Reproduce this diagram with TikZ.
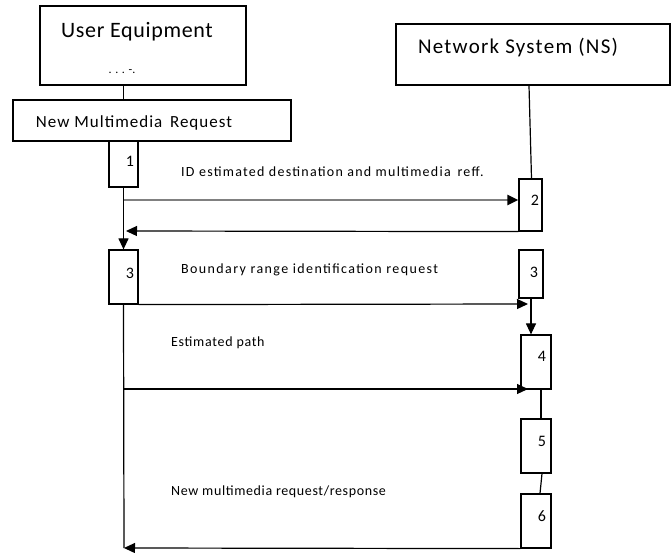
\documentclass[tikz,border=0pt]{standalone}
\usepackage{fontspec}
\setmainfont{Carlito}
\usetikzlibrary{arrows.meta,calc}
\tikzset{
  box/.style={draw=black, line width=1.2pt, rectangle, inner sep=0pt},
  lbl/.style={anchor=west, inner sep=0pt},
  num/.style={inner sep=0pt, font=\fontsize{16}{18}\selectfont},
  ln/.style={line width=1.2pt, black},
  arr/.style={ln, -{Triangle[length=11pt,width=10pt]}},
  garr/.style={line width=2.4pt, draw=black!50, -{Triangle[length=11pt,width=10pt,color=black]}}
}
\newcommand{\lblfont}[1]{\fontsize{14}{16}\selectfont\addfontfeature{LetterSpace=#1}}
\begin{document}
\begin{tikzpicture}[x=1pt,y=-1pt]
\useasboundingbox (0,0) rectangle (672,553);
% header boxes
\node[box, minimum width=206pt, minimum height=79pt] (ue) at (143,45.5) {};
\node[inner sep=0pt, font=\fontsize{22}{24}\selectfont\addfontfeature{LetterSpace=3}] (uet) at (137,32) {User Equipment};
\node[inner sep=0pt, font=\fontsize{12}{14}\selectfont] (ued) at (122,72) {. . . -.};
\node[box, minimum width=274pt, minimum height=61pt] (ns) at (533,54.5) {};
\node[inner sep=0pt, font=\fontsize{21}{24}\selectfont\addfontfeature{LetterSpace=6}] (nst) at (518,48) {Network System (NS)};
\node[box, minimum width=278pt, minimum height=41pt] (nmr) at (152,120.5) {};
\node[inner sep=0pt, font=\fontsize{17}{19}\selectfont\addfontfeature{LetterSpace=6}] (nmrt) at (134,123) {New Multimedia\, Request};
% activation boxes
\node[box, minimum width=29pt, minimum height=46pt] (b1) at (123.5,164) {};
\node[num] (n1) at (130,161) {1};
\node[box, minimum width=23pt, minimum height=52pt] (b2) at (530.5,205) {};
\node[num] (n2) at (535,200) {2};
\node[box, minimum width=29pt, minimum height=54pt] (b3l) at (123.5,277) {};
\node[num] (n3l) at (130,273) {3};
\node[box, minimum width=24pt, minimum height=48pt] (b3r) at (531,274) {};
\node[num] (n3r) at (534,272) {3};
\node[box, minimum width=30pt, minimum height=54pt] (b4) at (536,362) {};
\node[num] (n4) at (542,356) {4};
\node[box, minimum width=30pt, minimum height=54pt] (b5) at (536,446) {};
\node[num] (n5) at (542,441) {5};
\node[box, minimum width=30pt, minimum height=54pt] (b6) at (536,521) {};
\node[num] (n6) at (542,516) {6};
% labels
\node[lbl, font=\lblfont{9}] (l1) at (181,172) {ID estimated destination and multimedia\, reff.};
\node[lbl, font=\lblfont{10}] (l2) at (181,270) {Boundary range identification request};
\node[lbl, font=\lblfont{5}] (l3) at (171,343) {Estimated path};
\node[lbl, font=\lblfont{4.5}] (l4) at (171,492) {New multimedia request/response};
% coordinates
\coordinate (a1s) at (124,200);
\coordinate (a2e) at (126,231);
\coordinate (a3e) at (528,304);
\coordinate (a4s) at (124,389);
\coordinate (a4e) at (528,389);
\coordinate (a5e) at (124,548);
% connectors
\draw[ln] (ue.south -| b1.center) -- (nmr.north -| b1.center);
\draw[ln] (ns.south) ++(-4,0) coordinate (nsl) -- ($(b2.north)+(1,0)$);
\draw[arr] (b1.south) -- (b3l.north);
\draw[garr] (a1s) -- (a1s -| b2.west);
\draw[arr] (b2.south west) -- (a2e);
\draw[arr] (b3l.south east) -- (a3e);
\draw[arr] (b3r.south) -- (b3r.south |- b4.north);
\draw[ln] (b3l.south) -- (a5e);
\draw[arr] (a4s) -- (a4e);
\draw[ln] ($(b4.south)+(5,0)$) -- ($(b5.north)+(5,0)$);
\draw[ln] ($(b5.south)+(6,0)$) -- ($(b6.north)+(4,0)$);
\draw[arr] (b6.south west) -- (a5e);
\end{tikzpicture}
\end{document}
